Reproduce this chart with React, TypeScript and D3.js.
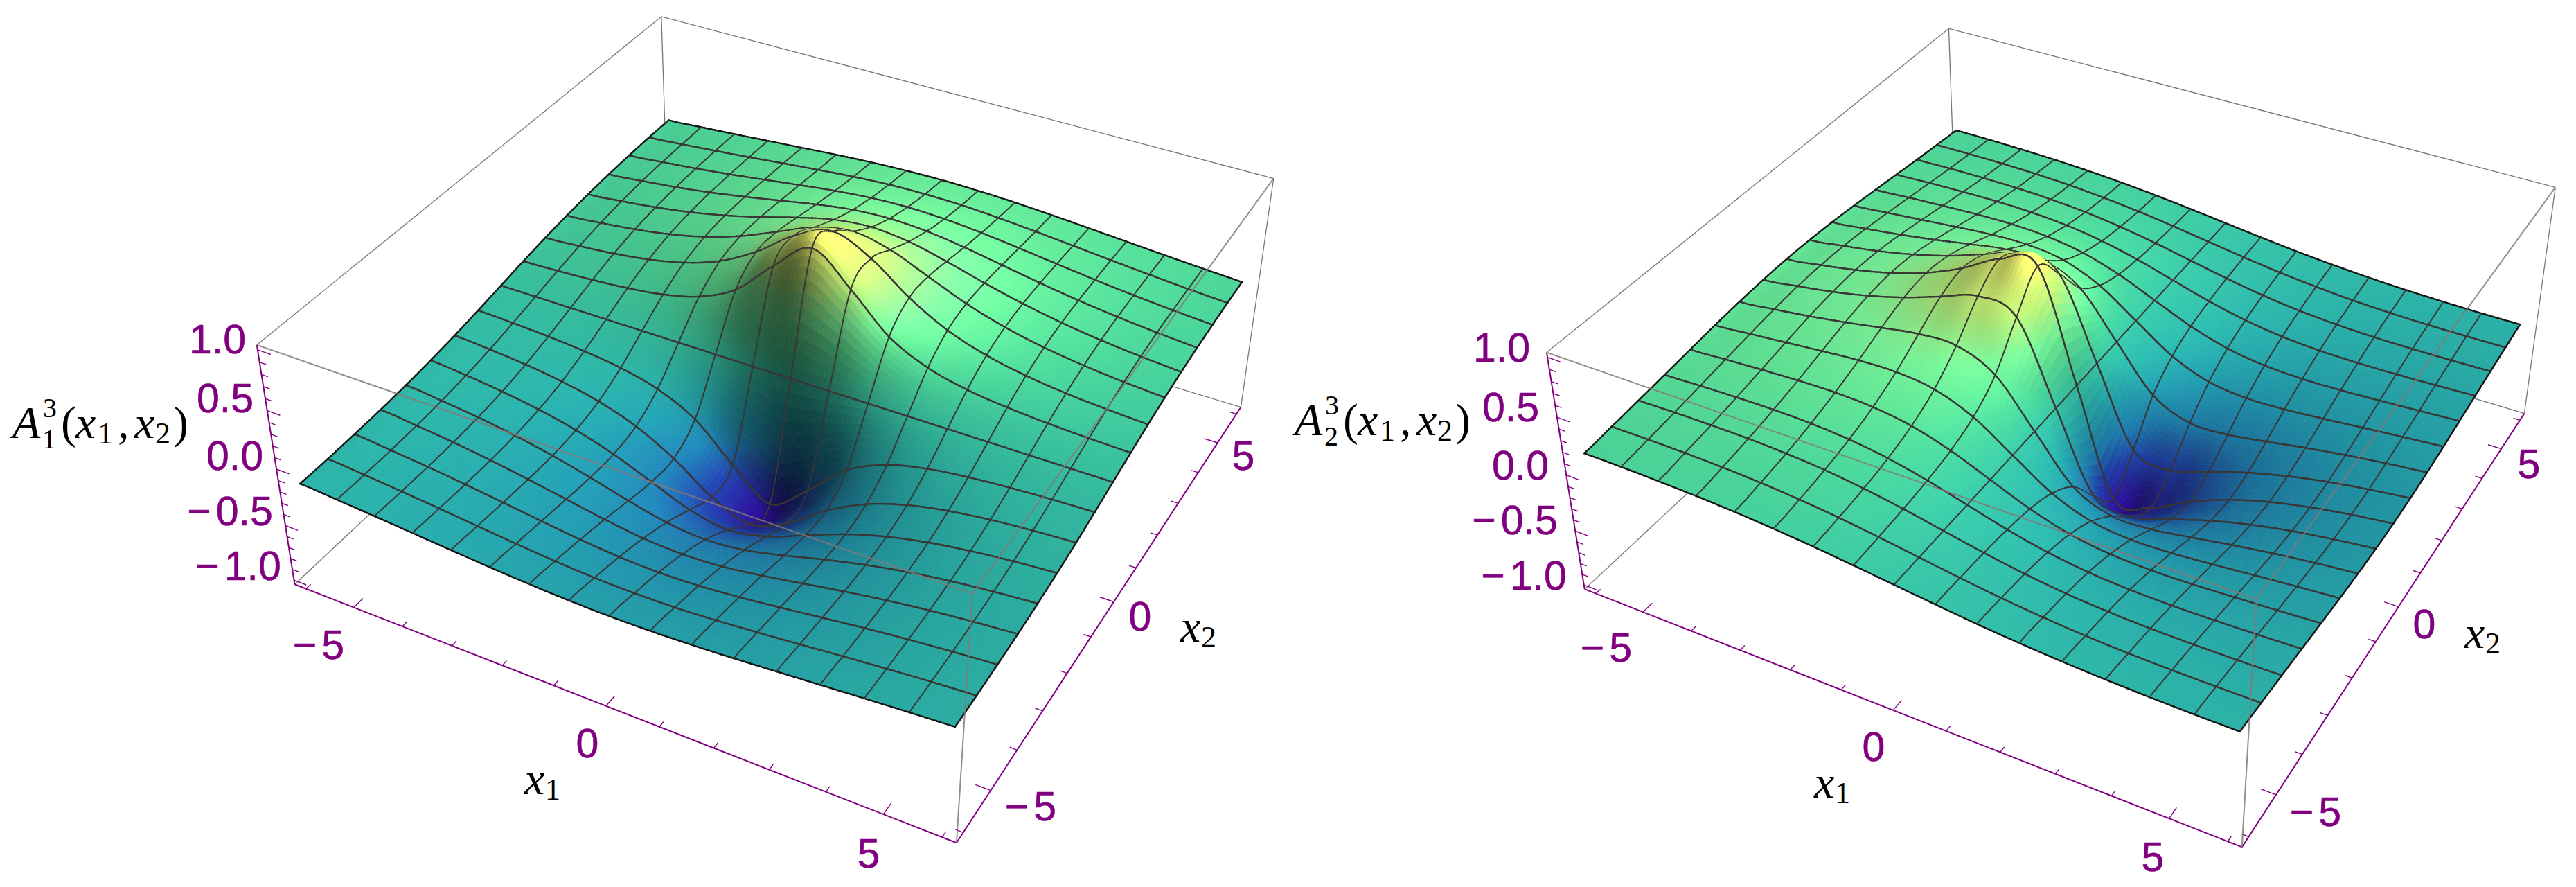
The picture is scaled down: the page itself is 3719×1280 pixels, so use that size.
import React from "react";
import * as d3 from "d3";

const meshX1 = [-6, -5.25, -4.5, -3.75, -3, -2.25, -1.5, -0.75, 0, 0.75, 1.5, 2.25, 3, 3.75, 4.5, 5.25, 6];
const meshX2 = [-6, -5.25, -4.5, -3.75, -3, -2.25, -1.5, -0.75, 0, 0.75, 1.5, 2.25, 3, 3.75, 4.5, 5.25, 6];

const surfaceA1 = [
  [-.160,-.181,-.204,-.229,-.254,-.278,-.298,-.311,-.316,-.311,-.298,-.278,-.254,-.229,-.204,-.181,-.160],
  [-.159,-.182,-.210,-.240,-.273,-.304,-.332,-.352,-.358,-.352,-.332,-.304,-.273,-.240,-.210,-.182,-.159],
  [-.153,-.180,-.211,-.248,-.290,-.333,-.373,-.402,-.413,-.402,-.373,-.333,-.290,-.248,-.211,-.180,-.153],
  [-.143,-.172,-.207,-.251,-.304,-.363,-.422,-.468,-.485,-.468,-.422,-.363,-.304,-.251,-.207,-.172,-.143],
  [-.127,-.156,-.193,-.243,-.308,-.388,-.478,-.554,-.585,-.554,-.478,-.388,-.308,-.243,-.193,-.156,-.127],
  [-.104,-.130,-.167,-.218,-.291,-.394,-.528,-.662,-.724,-.662,-.528,-.394,-.291,-.218,-.167,-.130,-.104],
  [-.075,-.095,-.124,-.169,-.239,-.352,-.532,-.767,-.900,-.767,-.532,-.352,-.239,-.169,-.124,-.095,-.075],
  [-.039,-.050,-.067,-.094,-.138,-.221,-.384,-.688,-.936,-.688,-.384,-.221,-.138,-.094,-.067,-.050,-.039],
  [0,0,0,0,0,0,0,0,0,0,0,0,0,0,0,0,0],
  [.039,.050,.067,.094,.138,.221,.384,.688,.936,.688,.384,.221,.138,.094,.067,.050,.039],
  [.075,.095,.124,.169,.239,.352,.532,.767,.900,.767,.532,.352,.239,.169,.124,.095,.075],
  [.104,.130,.167,.218,.291,.394,.528,.662,.724,.662,.528,.394,.291,.218,.167,.130,.104],
  [.127,.156,.193,.243,.308,.388,.478,.554,.585,.554,.478,.388,.308,.243,.193,.156,.127],
  [.143,.172,.207,.251,.304,.363,.422,.468,.485,.468,.422,.363,.304,.251,.207,.172,.143],
  [.153,.180,.211,.248,.290,.333,.373,.402,.413,.402,.373,.333,.290,.248,.211,.180,.153],
  [.159,.182,.210,.240,.273,.304,.332,.352,.358,.352,.332,.304,.273,.240,.210,.182,.159],
  [.160,.181,.204,.229,.254,.278,.298,.311,.316,.311,.298,.278,.254,.229,.204,.181,.160],
];

const surfaceA2 = [
  [.160,.159,.153,.143,.127,.104,.075,.039,0,-.039,-.075,-.104,-.127,-.143,-.153,-.159,-.160],
  [.181,.182,.180,.172,.156,.130,.095,.050,0,-.050,-.095,-.130,-.156,-.172,-.180,-.182,-.181],
  [.204,.210,.211,.207,.193,.167,.124,.067,0,-.067,-.124,-.167,-.193,-.207,-.211,-.210,-.204],
  [.229,.240,.248,.251,.243,.218,.169,.094,0,-.094,-.169,-.218,-.243,-.251,-.248,-.240,-.229],
  [.254,.273,.290,.304,.308,.291,.239,.138,0,-.138,-.239,-.291,-.308,-.304,-.290,-.273,-.254],
  [.278,.304,.333,.363,.388,.394,.352,.221,0,-.221,-.352,-.394,-.388,-.363,-.333,-.304,-.278],
  [.298,.332,.373,.422,.478,.528,.532,.384,0,-.384,-.532,-.528,-.478,-.422,-.373,-.332,-.298],
  [.311,.352,.402,.468,.554,.662,.767,.688,0,-.688,-.767,-.662,-.554,-.468,-.402,-.352,-.311],
  [.316,.358,.413,.485,.585,.724,.900,.936,0,-.936,-.900,-.724,-.585,-.485,-.413,-.358,-.316],
  [.311,.352,.402,.468,.554,.662,.767,.688,0,-.688,-.767,-.662,-.554,-.468,-.402,-.352,-.311],
  [.298,.332,.373,.422,.478,.528,.532,.384,0,-.384,-.532,-.528,-.478,-.422,-.373,-.332,-.298],
  [.278,.304,.333,.363,.388,.394,.352,.221,0,-.221,-.352,-.394,-.388,-.363,-.333,-.304,-.278],
  [.254,.273,.290,.304,.308,.291,.239,.138,0,-.138,-.239,-.291,-.308,-.304,-.290,-.273,-.254],
  [.229,.240,.248,.251,.243,.218,.169,.094,0,-.094,-.169,-.218,-.243,-.251,-.248,-.240,-.229],
  [.204,.210,.211,.207,.193,.167,.124,.067,0,-.067,-.124,-.167,-.193,-.207,-.211,-.210,-.204],
  [.181,.182,.180,.172,.156,.130,.095,.050,0,-.050,-.095,-.130,-.156,-.172,-.180,-.182,-.181],
  [.160,.159,.153,.143,.127,.104,.075,.039,0,-.039,-.075,-.104,-.127,-.143,-.153,-.159,-.160],
];

const zTickLabels = ["1.0", "0.5", "0.0", "\u22120.5", "\u22121.0"];
const x1TickLabels = ["\u22125", "0", "5"];
const x2TickLabels = ["5", "0", "\u22125"];
const zMinorTicks = [-1, -0.9, -0.8, -0.7, -0.6, -0.5, -0.4, -0.3, -0.2, -0.1, 0, 0.1, 0.2, 0.3, 0.4, 0.5, 0.6, 0.7, 0.8, 0.9, 1];
const xMinorTicks = [-6, -5, -4, -3, -2, -1, 0, 1, 2, 3, 4, 5, 6];

const colorDomain = [-1, -0.75, -0.55, -0.35, -0.17, 0, 0.17, 0.3, 0.45, 0.7, 1];
const colorRange = ["#2a0a90", "#2040a8", "#1f7eb0", "#2199aa", "#2ab0a6", "#36bfa0", "#4ad296", "#60e596", "#7dffa0", "#c8ff80", "#ffff70"];

const BOX_X = 6.24;
const BOX_Z = 1.04;
const SUB = 10;
const Z_ASPECT = 1.7;
const LIGHT = [0.5, 0.05, 0.85];
const AMBIENT = 0.12;
const PURPLE = "#800080";
const MATH = "'Liberation Serif', serif";

type Corner = [number, number, number, number, number];

const panels = [
  {
    surface: surfaceA1,
    sub: "1",
    corners: [
      [-1, 1, 1, 955, 24], [1, 1, 1, 1839, 257], [-1, -1, 1, 371, 498], [1, -1, 1, 1403, 857],
      [-1, -1, -1, 425, 843], [1, -1, -1, 1382, 1216], [1, 1, -1, 1791, 588],
    ] as Corner[],
    zLabels: [[314, 510], [325, 595], [339, 678], [332, 758], [344, 837]],
    x1Labels: [[460, 951], [848, 1093], [1254, 1252]],
    x2Labels: [[1795, 678], [1646, 910], [1488, 1184]],
    titlePos: [18, 632],
    x1Pos: [757, 1146],
    x2Pos: [1704, 926],
  },
  {
    surface: surfaceA2,
    sub: "2",
    corners: [
      [-1, 1, 1, 2814, 41], [1, 1, 1, 3689, 269], [-1, -1, 1, 2233, 510], [1, -1, 1, 3257, 865],
      [-1, -1, -1, 2287, 849], [1, -1, -1, 3238, 1222], [1, 1, -1, 3644, 598],
    ] as Corner[],
    zLabels: [[2168, 522], [2181, 608], [2195, 692], [2187, 771], [2200, 851]],
    x1Labels: [[2319, 955], [2705, 1098], [3108, 1257]],
    x2Labels: [[3651, 690], [3500, 921], [3343, 1192]],
    titlePos: [1869, 628],
    x1Pos: [2619, 1151],
    x2Pos: [3558, 935],
  },
];

function fitCamera(corners: Corner[]) {
  const rows: number[][] = [];
  const rhs: number[] = [];
  for (const [X, Y, Z, u0, v0] of corners) {
    const u = u0 / 1000, v = v0 / 1000;
    rows.push([X, Y, Z, 1, 0, 0, 0, 0, -u * X, -u * Y, -u * Z]); rhs.push(u);
    rows.push([0, 0, 0, 0, X, Y, Z, 1, -v * X, -v * Y, -v * Z]); rhs.push(v);
  }
  const n = 11;
  const M = d3.range(n).map((i) => d3.range(n + 1).map((j) =>
    j < n ? d3.sum(rows, (r) => r[i] * r[j]) : d3.sum(rows, (r, k) => r[i] * rhs[k])));
  for (let c = 0; c < n; c++) {
    let piv = c;
    for (let r = c + 1; r < n; r++) if (Math.abs(M[r][c]) > Math.abs(M[piv][c])) piv = r;
    [M[c], M[piv]] = [M[piv], M[c]];
    for (let r = 0; r < n; r++) {
      if (r === c) continue;
      const f = M[r][c] / M[c][c];
      for (let k = c; k <= n; k++) M[r][k] -= f * M[c][k];
    }
  }
  const p = d3.range(n).map((i) => M[i][n] / M[i][i]);
  return (X: number, Y: number, Z: number): [number, number] => {
    const w = p[8] * X + p[9] * Y + p[10] * Z + 1;
    return [
      (1000 * (p[0] * X + p[1] * Y + p[2] * Z + p[3])) / w,
      (1000 * (p[4] * X + p[5] * Y + p[6] * Z + p[7])) / w,
    ];
  };
}

const catmull = (a: number, b: number, c: number, d: number, t: number) =>
  0.5 * (2 * b + (c - a) * t + (2 * a - 5 * b + 4 * c - d) * t * t + (3 * b - a - 3 * c + d) * t * t * t);

function refine(grid: number[][], sub: number) {
  const n = grid.length;
  const at = (j: number, i: number) => {
    const jj = Math.max(0, Math.min(n - 1, j));
    const ii = Math.max(0, Math.min(n - 1, i));
    const ej = j - jj, ei = i - ii;
    let v = grid[jj][ii];
    if (ei !== 0) v += ei * (grid[jj][ii] - grid[jj][ii - Math.sign(ei)]);
    if (ej !== 0) v += ej * (grid[jj][ii] - grid[jj - Math.sign(ej)][ii]);
    return v;
  };
  const N = (n - 1) * sub + 1;
  return d3.range(N).map((J) => d3.range(N).map((I) => {
    const j = Math.min(n - 2, Math.floor(J / sub)), tj = J / sub - j;
    const i = Math.min(n - 2, Math.floor(I / sub)), ti = I / sub - i;
    const col = [-1, 0, 1, 2].map((d) =>
      catmull(at(j + d, i - 1), at(j + d, i), at(j + d, i + 1), at(j + d, i + 2), ti));
    return catmull(col[0], col[1], col[2], col[3], tj);
  }));
}

const pathLine = d3.line<[number, number]>().x((d) => d[0]).y((d) => d[1]);
const baseColor = d3.scaleLinear<string>().domain(colorDomain).range(colorRange).interpolate(d3.interpolateRgb).clamp(true);

function Panel({ cfg }: { cfg: (typeof panels)[number] }) {
  const cam = fitCamera(cfg.corners);
  const sx = d3.scaleLinear().domain([-BOX_X, BOX_X]).range([-1, 1]);
  const sz = d3.scaleLinear().domain([-BOX_Z, BOX_Z]).range([-1, 1]);
  const project = (x1: number, x2: number, z: number) => cam(sx(x1), sx(x2), sz(z));

  const fine = refine(cfg.surface, SUB);
  const N = fine.length;
  const fx = d3.scaleLinear().domain([0, N - 1]).range([meshX1[0], meshX1[meshX1.length - 1]]);
  const fy = d3.scaleLinear().domain([0, N - 1]).range([meshX2[0], meshX2[meshX2.length - 1]]);
  const h = fx(1) - fx(0);
  const pts = fine.map((row, J) => row.map((z, I) => project(fx(I), fy(J), z)));

  const shadeAt = (J: number, I: number) => {
    const I0 = Math.max(0, I - 1), I1 = Math.min(N - 1, I + 1);
    const J0 = Math.max(0, J - 1), J1 = Math.min(N - 1, J + 1);
    const zx = ((fine[J][I1] - fine[J][I0]) / ((I1 - I0) * h)) * Z_ASPECT;
    const zy = ((fine[J1][I] - fine[J0][I]) / ((J1 - J0) * h)) * Z_ASPECT;
    const len = Math.hypot(zx, zy, 1);
    const dot = (-zx * LIGHT[0] - zy * LIGHT[1] + LIGHT[2]) / len;
    return Math.min(1.08, AMBIENT + ((1 - AMBIENT) * Math.max(0, dot)) / LIGHT[2]);
  };

  const marks: React.ReactNode[] = [];
  // lines of constant x2 are the heavier family in the reference
  const edge = (a: [number, number], b: [number, number], border: boolean, heavy: boolean, key: string) => {
    marks.push(
      <path key={key} d={pathLine([a, b]) as string} fill="none"
        stroke={border ? "#141414" : "#3a3636"} strokeWidth={border ? 2.4 : heavy ? 2.4 : 1.8} strokeLinecap="round" />
    );
  };
  for (let I = 0; I < N - 1; I++) {
    for (let J = N - 2; J >= 0; J--) {
      const a = pts[J][I], b = pts[J][I + 1], c = pts[J + 1][I + 1], d = pts[J + 1][I];
      const z = (fine[J][I] + fine[J][I + 1] + fine[J + 1][I + 1] + fine[J + 1][I]) / 4;
      const s = (shadeAt(J, I) + shadeAt(J, I + 1) + shadeAt(J + 1, I + 1) + shadeAt(J + 1, I)) / 4;
      const col = d3.rgb(baseColor(z));
      const fill = d3.rgb(Math.min(255, col.r * s), Math.min(255, col.g * s), Math.min(255, col.b * s)).formatHex();
      marks.push(<path key={`q${I}-${J}`} d={(pathLine([a, b, c, d]) as string) + "Z"} fill={fill} stroke={fill} strokeWidth={0.7} />);
      if (J % SUB === 0) edge(a, b, J === 0, true, `e1${I}-${J}`);
      if ((J + 1) % SUB === 0) edge(d, c, J + 1 === N - 1, true, `e2${I}-${J}`);
      if (I % SUB === 0) edge(a, d, I === 0, false, `e3${I}-${J}`);
      if ((I + 1) % SUB === 0) edge(b, c, I + 1 === N - 1, false, `e4${I}-${J}`);
    }
  }

  const B = BOX_X, Z = BOX_Z;
  const seg = (p: [number, number], q: [number, number]) => pathLine([p, q]) as string;
  const backEdges = [
    seg(project(-B, -B, Z), project(-B, B, Z)),
    seg(project(-B, B, Z), project(B, B, Z)),
    seg(project(B, B, Z), project(B, B, -Z)),
    seg(project(-B, B, Z), project(-B, B, -Z)),
    seg(project(-B, -B, -Z), project(-B, B, -Z)),
    seg(project(B, B, -Z), project(-B, B, -Z)),
  ];
  const frontEdges = [
    seg(project(-B, -B, Z), project(B, -B, Z)),
    seg(project(B, -B, Z), project(B, B, Z)),
    seg(project(B, -B, Z), project(B, -B, -Z)),
  ];
  const axes = [
    seg(project(-B, -B, Z), project(-B, -B, -Z)),
    seg(project(-B, -B, -Z), project(B, -B, -Z)),
    seg(project(B, -B, -Z), project(B, B, -Z)),
  ];
  const isMajorZ = (t: number) => Math.abs(t * 2 - Math.round(t * 2)) < 1e-6;
  const isMajorX = (t: number) => t % 5 === 0;
  const tickPaths = [
    ...zMinorTicks.map((t) => seg(project(-B, -B, t), project(-B + (isMajorZ(t) ? 0.26 : 0.13), -B, t))),
    ...xMinorTicks.map((t) => seg(project(t, -B, -Z), project(t, -B + (isMajorX(t) ? 0.26 : 0.13), -Z))),
    ...xMinorTicks.map((t) => seg(project(B, t, -Z), project(B - (isMajorX(t) ? 0.26 : 0.13), t, -Z))),
  ];

  const tickText = (labels: string[], pos: number[][], k: string) =>
    labels.map((s, i) => {
      const neg = s.startsWith("\u2212");
      return (
        <text key={k + i} x={pos[i][0]} y={pos[i][1]} textAnchor="middle" fontFamily="'Liberation Sans', sans-serif"
          fontSize={59} fill={PURPLE} stroke={PURPLE} strokeWidth={0.6}>
          {neg ? <><tspan>{"\u2212"}</tspan><tspan dx={7}>{s.slice(1)}</tspan></> : s}
        </text>
      );
    });

  const [tx, ty] = cfg.titlePos;
  const glyph = (s: string, dx: number, dy: number, size: number, italic: boolean, k: string, ox = tx, oy = ty) => (
    <text key={k} x={ox + dx} y={oy + dy} fontFamily={MATH} fontSize={size} fontStyle={italic ? "italic" : "normal"} fill="#000">{s}</text>
  );

  return (
    <g>
      {backEdges.map((d, i) => <path key={i} d={d} fill="none" stroke="#777" strokeWidth={1.3} />)}
      {axes.map((d, i) => <path key={i} d={d} fill="none" stroke={PURPLE} strokeWidth={2} />)}
      {tickPaths.map((d, i) => <path key={i} d={d} fill="none" stroke={PURPLE} strokeWidth={1.4} />)}
      {marks}
      {frontEdges.map((d, i) => <path key={i} d={d} fill="none" stroke="#857878" strokeWidth={2} strokeOpacity={0.85} />)}
      {tickText(zTickLabels, cfg.zLabels, "z")}
      {tickText(x1TickLabels, cfg.x1Labels, "a")}
      {tickText(x2TickLabels, cfg.x2Labels, "b")}
      {glyph("A", 0, 0, 66, true, "A")}
      {glyph("3", 44, -30, 40, false, "s")}
      {glyph(cfg.sub, 43, 15, 40, false, "t")}
      {glyph("(", 70, 0, 66, false, "p")}
      {glyph("x", 91, 0, 66, true, "x1")}
      {glyph("1", 123, 8, 44, false, "x1s")}
      {glyph(",", 152, 0, 66, false, "c")}
      {glyph("x", 176, 0, 66, true, "x2")}
      {glyph("2", 206, 8, 44, false, "x2s")}
      {glyph(")", 232, 0, 66, false, "q")}
      {glyph("x", 0, 0, 66, true, "l1", cfg.x1Pos[0], cfg.x1Pos[1])}
      {glyph("1", 30, 8, 44, false, "l1s", cfg.x1Pos[0], cfg.x1Pos[1])}
      {glyph("x", 0, 0, 66, true, "l2", cfg.x2Pos[0], cfg.x2Pos[1])}
      {glyph("2", 30, 8, 44, false, "l2s", cfg.x2Pos[0], cfg.x2Pos[1])}
    </g>
  );
}

export default function App() {
  return (
    <svg width={3719} height={1280} viewBox="0 0 3719 1280"
      style={{ position: "fixed", left: 0, top: 0, display: "block", background: "#fff" }}>
      {panels.map((cfg, i) => <Panel key={i} cfg={cfg} />)}
    </svg>
  );
}
